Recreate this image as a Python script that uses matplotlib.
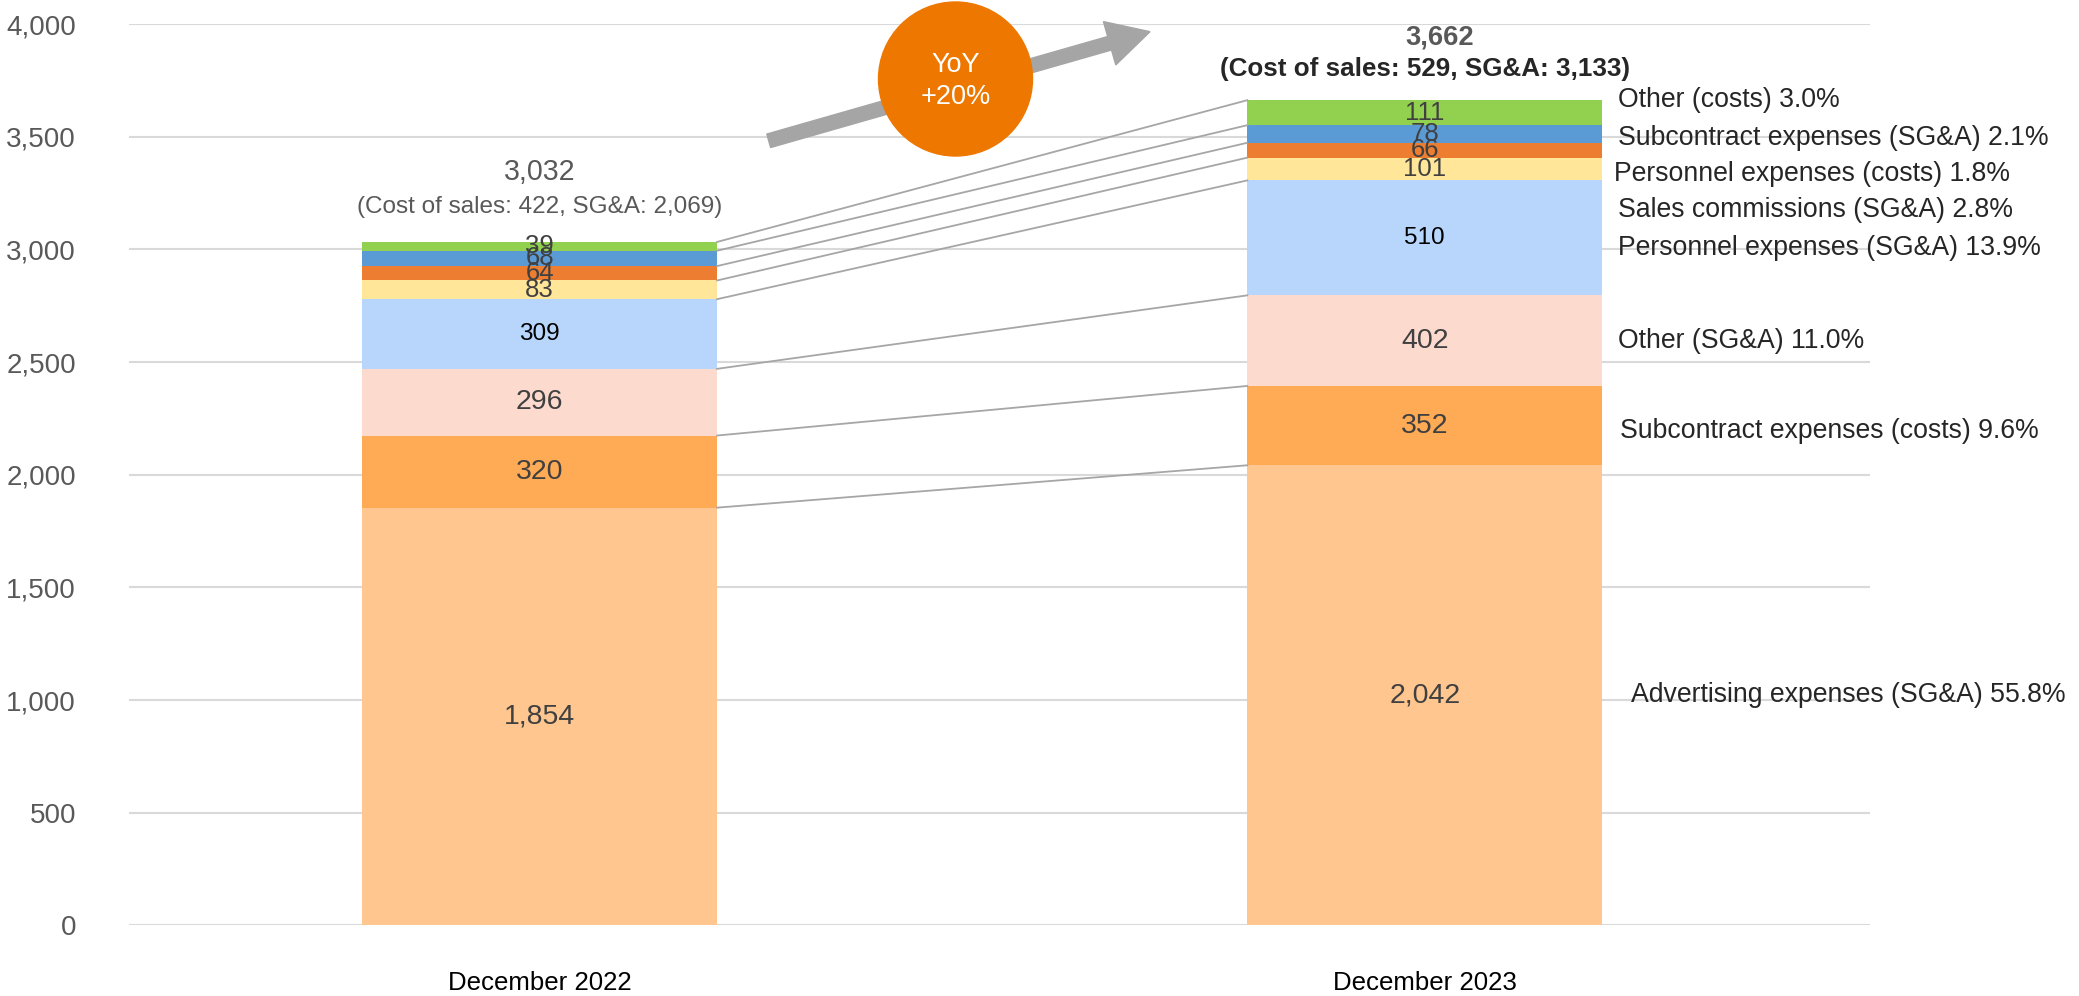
import matplotlib
matplotlib.use("Agg")
import matplotlib.pyplot as plt
from matplotlib.patches import Circle, FancyArrow
import numpy as np

plt.rcParams['font.family'] = ['Liberation Sans', 'DejaVu Sans']

# ---- data ----
periods = ["December 2022", "December 2023"]
categories = [
    "Advertising expenses (SG&A)",
    "Subcontract expenses (costs)",
    "Other (SG&A)",
    "Personnel expenses (SG&A)",
    "Sales commissions (SG&A)",
    "Personnel expenses (costs)",
    "Subcontract expenses (SG&A)",
    "Other (costs)",
]
values_2022 = [1854, 320, 296, 309, 83, 64, 68, 39]
values_2023 = [2042, 352, 402, 510, 101, 66, 78, 111]
share_2023 = ["55.8%", "9.6%", "11.0%", "13.9%", "2.8%", "1.8%", "2.1%", "3.0%"]
totals = ["3,032", "3,662"]
breakdowns = ["(Cost of sales: 422, SG&A: 2,069)", "(Cost of sales: 529, SG&A: 3,133)"]
yoy_text = "YoY\n+20%"
yticks = [0, 500, 1000, 1500, 2000, 2500, 3000, 3500, 4000]

# ---- styles / layout ----
colors = ["#FFC78F", "#FFAA55", "#FCDACD", "#B8D5FB", "#FFE699", "#ED7D31", "#5B9BD5", "#92D050"]
label_colors = ["#404040", "#404040", "#404040", "#000000", "#404040", "#404040", "#404040", "#404040"]
label_sizes = [20.5, 20.5, 20.5, 17.5, 18.5, 18.5, 18.5, 18.5]
right_label_y = [1024, 2194, 2594, 3006, 3176, 3335, 3494, 3665]
right_label_x = [1.233, 1.220, 1.218, 1.218, 1.218, 1.214, 1.218, 1.218]
bar_width = 0.401

fig = plt.figure(figsize=(20.79, 9.96), dpi=100)
ax = fig.add_axes([0.0620, 0.0708, 0.8375, 0.9051])

x = np.arange(len(periods))
data = np.array([values_2022, values_2023])
bottoms = np.zeros(len(periods))
tops = []
for i, cat in enumerate(categories):
    vals = data[:, i]
    ax.bar(x, vals, bar_width, bottom=bottoms, color=colors[i], zorder=2)
    for j in range(len(periods)):
        ax.text(x[j], bottoms[j] + vals[j] / 2, f"{vals[j]:,}", ha="center", va="center",
                fontsize=label_sizes[i], color=label_colors[i], zorder=4)
    bottoms = bottoms + vals
    tops.append(bottoms.copy())

# connector lines between segment tops
for t in tops:
    ax.plot([x[0] + bar_width / 2, x[1] - bar_width / 2], [t[0], t[1]],
            color="#A6A6A6", lw=1.3, zorder=3)

# right-side category labels
for i, cat in enumerate(categories):
    ax.text(right_label_x[i], right_label_y[i], f"{cat} {share_2023[i]}", ha="left", va="center",
            fontsize=19.2, color="#262626", zorder=4)

# totals
ax.text(x[0], 3343, totals[0], ha="center", va="center", fontsize=20.6, color="#595959")
ax.text(x[0], 3190, breakdowns[0], ha="center", va="center", fontsize=17.5, color="#595959")
ax.text(x[1] + 0.0165, 3940, totals[1], ha="center", va="center", fontsize=19.7, color="#595959",
        fontweight="bold")
ax.text(x[1], 3800, breakdowns[1], ha="center", va="center", fontsize=18.7, color="#262626",
        fontweight="bold")

ax.set_xlim(-0.464, 1.503)
ax.set_ylim(0, 4000)
ax.set_yticks(yticks)
ax.set_yticklabels([f"{v:,}" for v in yticks])
ax.set_xticks(x)
ax.set_xticklabels(periods)
ax.tick_params(axis="y", length=0, pad=38, labelsize=20, labelcolor="#595959")
ax.tick_params(axis="x", length=0, pad=33, labelsize=18.6, labelcolor="#000000")
ax.grid(axis="y", color="#D9D9D9", lw=1.5, zorder=0)
ax.set_axisbelow(True)
for s in ax.spines.values():
    s.set_visible(False)

# YoY arrow and badge
arrow = FancyArrow(7.687, 8.552, 3.813, 1.091, width=0.14, head_width=0.45, head_length=0.42,
                   length_includes_head=True, color="#A5A5A5", transform=fig.dpi_scale_trans)
fig.add_artist(arrow)
circ = Circle((9.555, 9.17), 0.77, color="#EE7700", transform=fig.dpi_scale_trans)
fig.add_artist(circ)
fig.text(9.555 / 20.79, 9.15 / 9.96, yoy_text, ha="center", va="center", fontsize=19.5,
         color="white", linespacing=1.3)

fig.savefig("out.png", dpi=100)
